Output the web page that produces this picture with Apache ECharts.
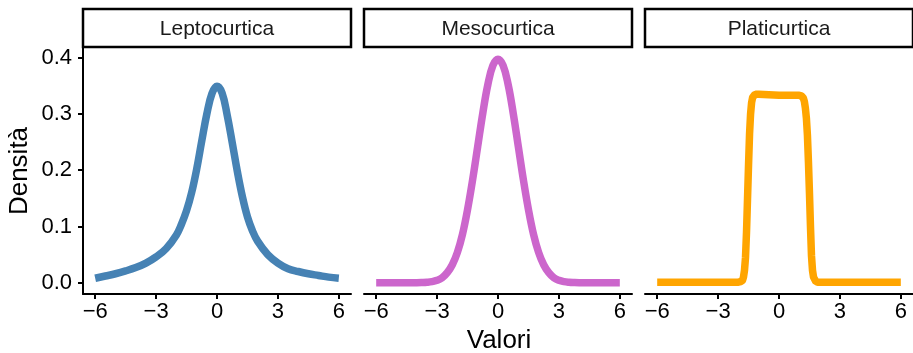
<!DOCTYPE html>
<html>
<head>
<meta charset="utf-8">
<script src="https://cdn.jsdelivr.net/npm/echarts@6/dist/echarts.min.js"></script>
<style>
html,body{margin:0;padding:0;background:#fff;}
#chart{width:913px;height:353px;}
</style>
</head>
<body>
<div id="chart"></div>
<script>
// ---------------- DATA ----------------
var facetNames = ['Leptocurtica', 'Mesocurtica', 'Platicurtica'];
var seriesColors = ['#4682B4', '#CC66CC', '#FFA500'];

var leptoX = [-6, -5.5, -5, -4.5, -4, -3.5, -3, -2.5, -2, -1.75, -1.5, -1.25, -1, -0.75, -0.5, -0.25, 0,
              0.25, 0.5, 0.75, 1, 1.25, 1.5, 1.75, 2, 2.5, 3, 3.5, 4, 4.5, 5, 5.5, 6];
var leptoY = [0.008, 0.012, 0.016, 0.021, 0.027, 0.035, 0.046, 0.061, 0.085, 0.104, 0.128, 0.160, 0.202, 0.252, 0.300, 0.336, 0.349,
              0.337, 0.298, 0.249, 0.198, 0.153, 0.117, 0.092, 0.074, 0.050, 0.035, 0.025, 0.020, 0.016, 0.013, 0.010, 0.008];

var mesoX = [-6, -5, -4.5, -4, -3.75, -3.5, -3.25, -3, -2.75, -2.5, -2.25, -2, -1.75, -1.5, -1.25, -1, -0.75, -0.5, -0.25, 0,
             0.25, 0.5, 0.75, 1, 1.25, 1.5, 1.75, 2, 2.25, 2.5, 2.75, 3, 3.25, 3.5, 3.75, 4, 4.5, 5, 6];
var mesoY = [0, 0, 0, 0.0001, 0.0004, 0.0009, 0.002, 0.0044, 0.009, 0.018, 0.032, 0.054, 0.086, 0.130, 0.183, 0.242, 0.301, 0.352, 0.386, 0.397,
             0.386, 0.352, 0.301, 0.242, 0.183, 0.130, 0.086, 0.054, 0.032, 0.018, 0.009, 0.0044, 0.002, 0.0009, 0.0004, 0.0001, 0, 0, 0];

var platiX = [-6, -5, -4, -3, -2.5, -2, -1.9, -1.8, -1.75, -1.7, -1.65, -1.6, -1.55, -1.5, -1.45, -1.4, -1.35, -1.3, -1.2, -1.1, -1, -0.5, 0,
              0.5, 1, 1.1, 1.2, 1.25, 1.3, 1.35, 1.4, 1.45, 1.5, 1.55, 1.6, 1.65, 1.7, 1.8, 1.9, 2, 2.5, 3, 4, 5, 6];
var platiY = [0.001, 0.001, 0.001, 0.001, 0.001, 0.001, 0.002, 0.004, 0.010, 0.022, 0.045, 0.090, 0.150, 0.210, 0.265, 0.300, 0.320, 0.329, 0.334, 0.335, 0.335, 0.334, 0.333,
              0.333, 0.333, 0.332, 0.328, 0.322, 0.310, 0.292, 0.262, 0.215, 0.160, 0.100, 0.048, 0.022, 0.010, 0.003, 0.001, 0.001, 0.001, 0.001, 0.001, 0.001, 0.001];

var xTickValues = [-6, -3, 0, 3, 6];
var xTickLabels = ['\u22126', '\u22123', '0', '3', '6'];
var yTickValues = [0, 0.1, 0.2, 0.3, 0.4];
var yTickLabels = ['0.0', '0.1', '0.2', '0.3', '0.4'];

var xTitle = 'Valori';
var yTitle = 'Densit\u00e0';

// ---------------- CHART ----------------
var FONT = '"Liberation Sans", Arial, Helvetica, sans-serif';
var gridLefts = [83, 364, 645];
var gridWidth = 268;
var gridTop = 47;
var gridHeight = 247;

function pairs(xs, ys) { return xs.map(function (x, i) { return [x, ys[i]]; }); }
var seriesData = [pairs(leptoX, leptoY), pairs(mesoX, mesoY), pairs(platiX, platiY)];

var grids = [], xAxes = [], yAxes = [], series = [], graphics = [];
for (var i = 0; i < 3; i++) {
  grids.push({ left: gridLefts[i], top: gridTop, width: gridWidth, height: gridHeight, containLabel: false });
  xAxes.push({
    type: 'value', gridIndex: i, min: -6.6, max: 6.6,
    axisLine: { show: true, onZero: false, lineStyle: { color: '#000', width: 2 } },
    axisTick: { show: true, length: 5, customValues: xTickValues, lineStyle: { color: '#000', width: 2 } },
    axisLabel: {
      show: true, customValues: xTickValues, margin: 7, color: '#000', fontSize: 22, fontFamily: FONT,
      formatter: function (v) { var k = xTickValues.indexOf(v); return k >= 0 ? xTickLabels[k] : ''; }
    },
    splitLine: { show: false }
  });
  yAxes.push({
    type: 'value', gridIndex: i, min: -0.01995, max: 0.4188,
    axisLine: { show: i === 0, onZero: false, lineStyle: { color: '#000', width: 2 } },
    axisTick: { show: i === 0, length: 5, customValues: yTickValues, lineStyle: { color: '#000', width: 2 } },
    axisLabel: {
      show: i === 0, customValues: yTickValues, margin: 11, color: '#000', fontSize: 22, fontFamily: FONT,
      formatter: function (v) {
        for (var k = 0; k < yTickValues.length; k++) { if (Math.abs(yTickValues[k] - v) < 1e-9) return yTickLabels[k]; }
        return '';
      }
    },
    splitLine: { show: false }
  });
  series.push({
    type: 'line', xAxisIndex: i, yAxisIndex: i, data: seriesData[i],
    showSymbol: false, smooth: i === 2 ? false : 0.4,
    lineStyle: { color: seriesColors[i], width: 7.5, join: 'round', cap: 'butt' },
    itemStyle: { color: seriesColors[i] },
    silent: true, animation: false, clip: false
  });
  graphics.push({
    type: 'rect', shape: { x: gridLefts[i], y: 9, width: gridWidth, height: 38 },
    style: { fill: '#fff', stroke: '#000', lineWidth: 2.5 }
  });
  graphics.push({
    type: 'text', x: gridLefts[i] + gridWidth / 2, y: 29,
    style: { text: facetNames[i], fill: '#1a1a1a', font: '21px ' + FONT, align: 'center', verticalAlign: 'middle' }
  });
}
graphics.push({
  type: 'text', x: 499, y: 341,
  style: { text: xTitle, fill: '#000', font: '26px ' + FONT, align: 'center', verticalAlign: 'middle' }
});
graphics.push({
  type: 'text', x: 20, y: 171, rotation: Math.PI / 2,
  style: { text: yTitle, fill: '#000', font: '26px ' + FONT, align: 'center', verticalAlign: 'middle' }
});

var chart = echarts.init(document.getElementById('chart'), null, { renderer: 'canvas' });
chart.setOption({
  animation: false,
  backgroundColor: '#fff',
  grid: grids, xAxis: xAxes, yAxis: yAxes, series: series, graphic: graphics
});
</script>
</body>
</html>
